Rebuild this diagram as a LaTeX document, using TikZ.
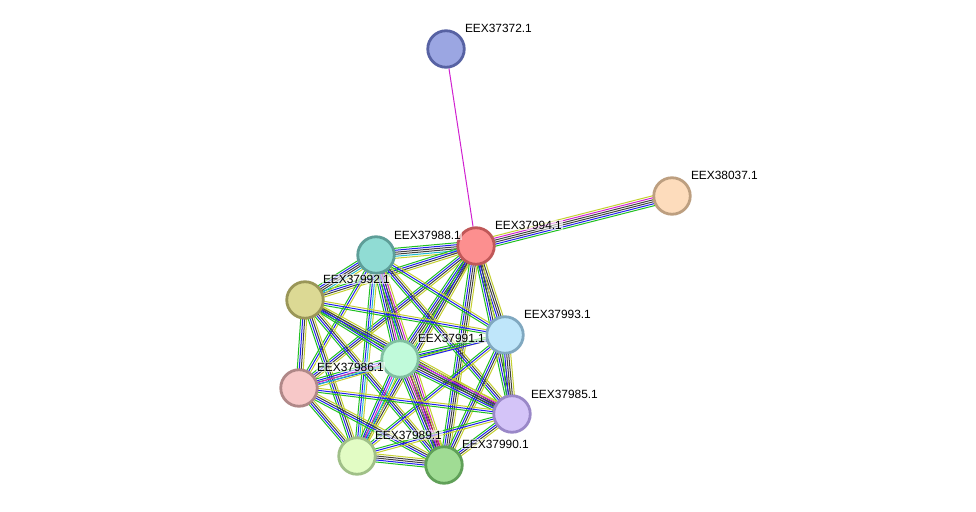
\documentclass[tikz,border=0pt]{standalone}
\usepackage{fontspec}
\setmainfont{Liberation Sans}
\usetikzlibrary{calc}
\pgfdeclarelayer{background}
\pgfsetlayers{background,main}
\definecolor{tm}{HTML}{C4D030}
\definecolor{ex}{HTML}{D020D0}
\definecolor{db}{HTML}{20B8D0}
\definecolor{co}{HTML}{404040}
\definecolor{nb}{HTML}{20C020}
\definecolor{cc}{HTML}{2020F0}
\definecolor{fu}{HTML}{C02060}
\newcommand\edgebundle[3]{%
  \foreach \c [count=\k] in {#3} {\xdef\bcount{\k}}%
  \foreach \c [count=\k] in {#3} {%
    \pgfmathsetmacro\off{(\k-(\bcount+1)/2)*2.0}%
    \draw[\c, line width=1pt] ($(#1)!\off pt!90:(#2)$) -- ($(#2)!\off pt!-90:(#1)$);
  }%
}
\tikzset{
  prot/.style={circle, minimum size=36.5pt, inner sep=0pt, line width=2.8pt},
  lbl/.style={anchor=west, font=\fontsize{11.9}{14}\selectfont, fill=white, fill opacity=0.6, text opacity=1, inner sep=0.8pt}
}
\begin{document}
\begin{tikzpicture}[x=1pt,y=-1pt]
\useasboundingbox (0,0) rectangle (976,511);
\node[prot, fill={rgb,255:red,155;green,166;blue,226}, draw={rgb,255:red,87;green,98;blue,163}] (Z) at (446,49) {};
\node[prot, fill={rgb,255:red,253;green,220;blue,188}, draw={rgb,255:red,189;green,159;blue,128}] (Y) at (672,196) {};
\node[prot, fill={rgb,255:red,252;green,143;blue,143}, draw={rgb,255:red,192;green,88;blue,88}] (A) at (476,246) {};
\node[prot, fill={rgb,255:red,144;green,220;blue,212}, draw={rgb,255:red,94;green,158;blue,152}] (B) at (376,255) {};
\node[prot, fill={rgb,255:red,220;green,217;blue,148}, draw={rgb,255:red,154;green,150;blue,88}] (C) at (305,300) {};
\node[prot, fill={rgb,255:red,191;green,230;blue,250}, draw={rgb,255:red,128;green,168;blue,192}] (D) at (505,335) {};
\node[prot, fill={rgb,255:red,192;green,250;blue,218}, draw={rgb,255:red,128;green,192;blue,160}] (E) at (400,359) {};
\node[prot, fill={rgb,255:red,247;green,200;blue,200}, draw={rgb,255:red,176;green,136;blue,136}] (F) at (299,388) {};
\node[prot, fill={rgb,255:red,212;green,196;blue,248}, draw={rgb,255:red,154;green,136;blue,200}] (G) at (512,414) {};
\node[prot, fill={rgb,255:red,226;green,252;blue,196}, draw={rgb,255:red,160;green,192;blue,136}] (H) at (357,456) {};
\node[prot, fill={rgb,255:red,160;green,220;blue,148}, draw={rgb,255:red,96;green,160;blue,88}] (I) at (444,465) {};
\begin{pgfonlayer}{background}
\draw[ex, line width=1pt] (A) -- (Z);
\edgebundle{Y}{A}{tm,ex,co,co,cc,nb}
\edgebundle{A}{B}{nb,cc,co,co,db,tm}
\edgebundle{A}{C}{nb,cc,co,tm}
\edgebundle{A}{D}{nb,cc,co,co,tm}
\edgebundle{A}{E}{nb,cc,co,co,tm}
\edgebundle{A}{F}{nb,cc,co,tm}
\edgebundle{A}{G}{nb,cc,co,tm}
\edgebundle{A}{H}{nb,cc,co,tm}
\edgebundle{A}{I}{nb,cc,co,co,tm}
\edgebundle{B}{C}{nb,cc,co,co,db,tm}
\edgebundle{B}{D}{nb,cc,tm}
\edgebundle{B}{E}{nb,cc,co,ex,db,tm}
\edgebundle{B}{F}{nb,cc,tm}
\edgebundle{B}{G}{nb,cc,co,tm}
\edgebundle{B}{H}{nb,cc,db,tm}
\edgebundle{B}{I}{nb,cc,co,ex,tm}
\edgebundle{C}{D}{nb,cc,tm}
\edgebundle{C}{E}{nb,cc,co,tm}
\edgebundle{C}{F}{nb,cc,co,tm}
\edgebundle{C}{G}{nb,cc,co,tm}
\edgebundle{C}{H}{nb,cc,co,tm}
\edgebundle{C}{I}{nb,cc,co,tm}
\edgebundle{D}{E}{nb,cc,tm}
\edgebundle{D}{F}{nb,cc}
\edgebundle{D}{G}{nb,cc,co,co,tm}
\edgebundle{D}{H}{nb,cc,tm}
\edgebundle{D}{I}{nb,cc,co,tm}
\edgebundle{E}{F}{nb,cc,ex,db,tm}
\edgebundle{E}{G}{nb,cc,co,co,ex,tm}
\edgebundle{E}{H}{nb,cc,ex,db,tm}
\edgebundle{E}{I}{nb,cc,co,ex,fu,tm}
\edgebundle{F}{G}{nb,cc,tm}
\edgebundle{F}{H}{nb,cc,co,tm}
\edgebundle{F}{I}{nb,cc,co,tm}
\edgebundle{G}{H}{nb,cc,tm}
\edgebundle{G}{I}{nb,cc,co,tm}
\edgebundle{H}{I}{nb,cc,co,co,tm}
\end{pgfonlayer}
\node[lbl] (lZ) at (464,28) {EEX37372.1};
\node[lbl] (lY) at (690,175) {EEX38037.1};
\node[lbl] (lA) at (494,225) {EEX37994.1};
\node[lbl] (lB) at (393,235) {EEX37988.1};
\node[lbl] (lC) at (322,279) {EEX37992.1};
\node[lbl] (lD) at (523,314) {EEX37993.1};
\node[lbl] (lE) at (417,338) {EEX37991.1};
\node[lbl] (lF) at (316,367) {EEX37986.1};
\node[lbl] (lG) at (530,394) {EEX37985.1};
\node[lbl] (lH) at (374,435) {EEX37989.1};
\node[lbl] (lI) at (461,444) {EEX37990.1};
\end{tikzpicture}
\end{document}
